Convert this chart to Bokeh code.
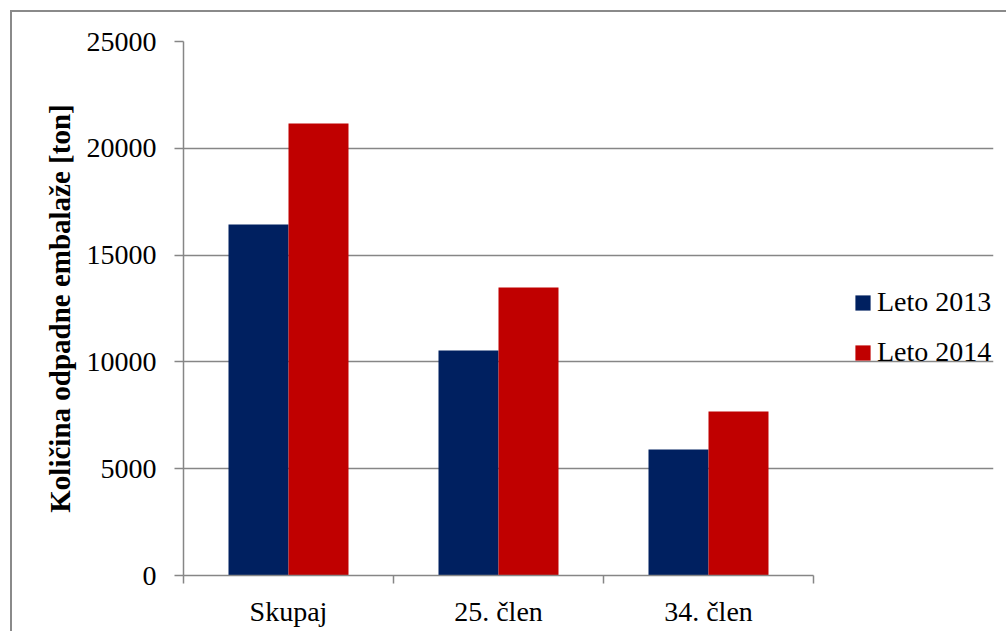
from bokeh.plotting import figure
from bokeh.models import (ColumnDataSource, FixedTicker, Legend, LegendItem, Range1d)
from bokeh.embed import file_html
from bokeh.resources import INLINE

# Packaging waste amounts (tons) by category and year
categories = ["Skupaj", "25. člen", "34. člen"]
leto_2013 = [16430, 10530, 5900]
leto_2014 = [21160, 13480, 7680]
series_names = ["Leto 2013", "Leto 2014"]
y_ticks = [0, 5000, 10000, 15000, 20000, 25000]

NAVY = "#002060"
RED = "#C00000"
GRID = "#868686"
FONT = "Liberation Serif"

n = len(categories)
bar_w = 0.2857
centers = [i + 0.5 for i in range(n)]

# the frame runs past the last category to leave room for the legend;
# axis and gridlines are bounded to the category span
CAT_PX = 210
FRAME_W = 810
x_end = FRAME_W / CAT_PX

src13 = ColumnDataSource(dict(x=[c - bar_w / 2 for c in centers], top=leto_2013))
src14 = ColumnDataSource(dict(x=[c + bar_w / 2 for c in centers], top=leto_2014))

# the figure sits 12 px in from the page corner, framed by a grey border
p = figure(width=996, height=621, output_backend="svg", toolbar_location=None,
           x_range=Range1d(0, x_end), y_range=Range1d(0, 25000),
           min_border_left=171, min_border_right=996 - 171 - FRAME_W,
           min_border_top=29, min_border_bottom=58)
p.styles = {"margin-left": "10px", "margin-top": "10px",
            "border-left": "2px solid #8a8a8a", "border-top": "2px solid #8a8a8a"}
p.background_fill_color = "white"
p.border_fill_color = "white"
p.outline_line_color = None

r13 = p.vbar(x="x", top="top", width=bar_w, source=src13, fill_color=NAVY, line_color=None)
r14 = p.vbar(x="x", top="top", width=bar_w, source=src14, fill_color=RED, line_color=None)

# y axis
p.yaxis.ticker = FixedTicker(ticks=y_ticks)
p.yaxis.axis_label = "Količina odpadne embalaže [ton]"
p.yaxis.axis_label_text_font = FONT
p.yaxis.axis_label_text_font_style = "bold"
p.yaxis.axis_label_text_font_size = "29px"
p.yaxis.axis_label_text_color = "black"
p.yaxis.axis_label_standoff = 8
p.yaxis.major_label_text_font = FONT
p.yaxis.major_label_text_font_size = "28px"
p.yaxis.major_label_text_color = "black"
p.yaxis.major_label_standoff = 18
p.yaxis.major_tick_out = 9
p.yaxis.major_tick_in = 0
p.yaxis.minor_tick_line_color = None
p.yaxis.axis_line_color = GRID
p.yaxis.axis_line_width = 1.5
p.yaxis.major_tick_line_color = GRID
p.yaxis.major_tick_line_width = 1.5

# x axis: labels at category centers, tick marks at category boundaries
p.xaxis.bounds = (0, n)
p.xaxis.ticker = FixedTicker(ticks=centers, minor_ticks=list(range(n + 1)))
p.xaxis.major_label_overrides = {c: name for c, name in zip(centers, categories)}
p.xaxis.major_label_text_font = FONT
p.xaxis.major_label_text_font_size = "28px"
p.xaxis.major_label_text_color = "black"
p.xaxis.major_label_standoff = 12
p.xaxis.major_tick_line_color = None
p.xaxis.minor_tick_out = 8
p.xaxis.minor_tick_in = 0
p.xaxis.minor_tick_line_color = GRID
p.xaxis.minor_tick_line_width = 1.5
p.xaxis.axis_line_color = GRID
p.xaxis.axis_line_width = 1.5

p.xgrid.grid_line_color = None
p.ygrid.grid_line_color = GRID
p.ygrid.grid_line_width = 1.5
p.ygrid.bounds = (0, n)

legend = Legend(items=[LegendItem(label=series_names[0], renderers=[r13]),
                       LegendItem(label=series_names[1], renderers=[r14])],
                location=(670, 207))
legend.label_text_font = FONT
legend.label_text_font_size = "28px"
legend.label_text_color = "black"
legend.glyph_width = 19
legend.glyph_height = 19
legend.label_standoff = 5
legend.label_height = 31
legend.spacing = 18
legend.padding = 0
legend.margin = 0
legend.border_line_color = None
legend.background_fill_alpha = 0
p.add_layout(legend, "center")

open("out.html", "w").write(file_html(p, INLINE))
